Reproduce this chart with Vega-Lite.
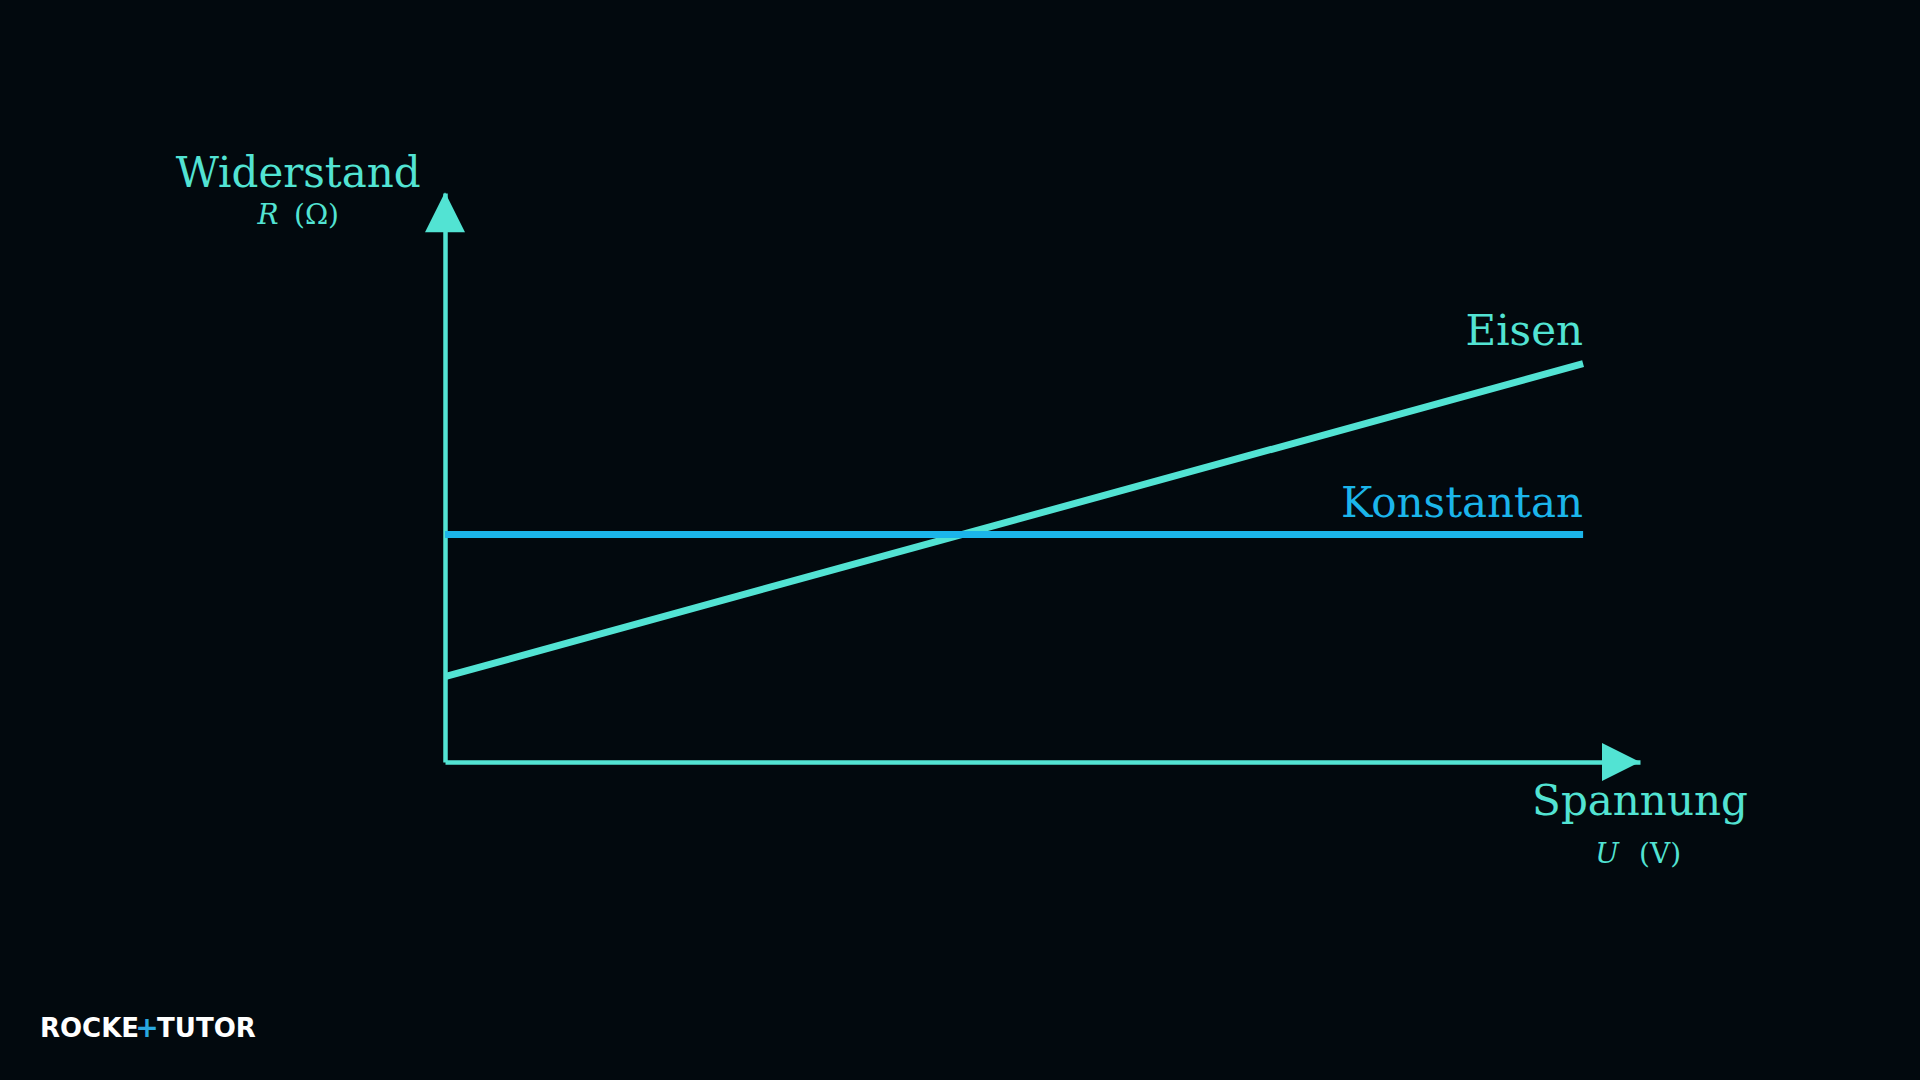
{
  "$schema": "https://vega.github.io/schema/vega-lite/v6.json",
  "autosize": {"type": "none"},
  "width": 1195,
  "height": 569,
  "padding": {"left": 445, "right": 280, "top": 193, "bottom": 318},
  "background": "#02090e",
  "config": {
    "view": {"stroke": null},
    "axis": {
      "domain": true, "domainColor": "#52e3d3", "domainWidth": 4.5, "domainCap": "butt",
      "ticks": false, "labels": false, "grid": false, "title": null
    }
  },
  "datasets": {
    "lines": [
      {"material": "Eisen", "U": 0, "R": 1.5},
      {"material": "Eisen", "U": 10, "R": 7.0},
      {"material": "Konstantan", "U": 0, "R": 4.0},
      {"material": "Konstantan", "U": 10, "R": 4.0}
    ],
    "lineLabels": [
      {"material": "Eisen", "label": "Eisen", "U": 10, "R": 7.33},
      {"material": "Konstantan", "label": "Konstantan", "U": 10, "R": 4.306}
    ],
    "arrowUp": [{"U": 0, "R": 9.66}],
    "arrowRight": [{"U": 10.333, "R": 0}],
    "titles": [
      {"label": "Widerstand", "U": -1.29, "R": 10.105},
      {"label": "Spannung", "U": 10.5, "R": -0.931}
    ],
    "symbols": [
      {"label": "R", "U": -1.555, "R": 9.455},
      {"label": "U", "U": 10.21, "R": -1.775}
    ],
    "units": [
      {"label": "(Ω)", "U": -1.129, "R": 9.455},
      {"label": "(V)", "U": 10.676, "R": -1.775}
    ],
    "logoWhite": [
      {"label": "ROCKE", "U": -3.559, "R": -4.833},
      {"label": "TUTOR", "U": -2.53, "R": -4.833}
    ],
    "logoBlue": [
      {"label": "+", "U": -2.618, "R": -4.833}
    ]
  },
  "layer": [
    {
      "data": {"name": "lines"},
      "mark": {"type": "line", "strokeWidth": 7, "strokeCap": "butt"},
      "encoding": {
        "x": {"field": "U", "type": "quantitative", "scale": {"domain": [0, 10.5], "nice": false, "zero": false}},
        "y": {"field": "R", "type": "quantitative", "scale": {"domain": [0, 10], "nice": false, "zero": false}},
        "color": {"field": "material", "type": "nominal", "scale": {"domain": ["Eisen", "Konstantan"], "range": ["#52e3d3", "#1bb5ea"]}, "legend": null}
      }
    },
    {
      "data": {"name": "arrowUp"},
      "mark": {"type": "point", "shape": "M-1,1L1,1L0,-1Z", "size": 1600, "filled": true, "opacity": 1, "color": "#52e3d3", "strokeWidth": 0},
      "encoding": {
        "x": {"field": "U", "type": "quantitative"},
        "y": {"field": "R", "type": "quantitative"}
      }
    },
    {
      "data": {"name": "arrowRight"},
      "mark": {"type": "point", "shape": "M-1,-1L1,0L-1,1Z", "size": 1444, "filled": true, "opacity": 1, "color": "#52e3d3", "strokeWidth": 0},
      "encoding": {
        "x": {"field": "U", "type": "quantitative"},
        "y": {"field": "R", "type": "quantitative"}
      }
    },
    {
      "data": {"name": "lineLabels"},
      "mark": {"type": "text", "align": "right", "baseline": "alphabetic", "font": "DejaVu Serif", "fontSize": 42},
      "encoding": {
        "x": {"field": "U", "type": "quantitative"},
        "y": {"field": "R", "type": "quantitative"},
        "text": {"field": "label"},
        "color": {"field": "material", "type": "nominal", "legend": null}
      }
    },
    {
      "data": {"name": "titles"},
      "mark": {"type": "text", "align": "center", "baseline": "alphabetic", "font": "DejaVu Serif", "fontSize": 42, "color": "#52e3d3"},
      "encoding": {
        "x": {"field": "U", "type": "quantitative"},
        "y": {"field": "R", "type": "quantitative"},
        "text": {"field": "label"}
      }
    },
    {
      "data": {"name": "symbols"},
      "mark": {"type": "text", "align": "center", "baseline": "alphabetic", "font": "DejaVu Serif", "fontStyle": "italic", "fontSize": 28, "color": "#52e3d3"},
      "encoding": {
        "x": {"field": "U", "type": "quantitative"},
        "y": {"field": "R", "type": "quantitative"},
        "text": {"field": "label"}
      }
    },
    {
      "data": {"name": "units"},
      "mark": {"type": "text", "align": "center", "baseline": "alphabetic", "font": "DejaVu Serif", "fontSize": 28, "color": "#52e3d3"},
      "encoding": {
        "x": {"field": "U", "type": "quantitative"},
        "y": {"field": "R", "type": "quantitative"},
        "text": {"field": "label"}
      }
    },
    {
      "data": {"name": "logoWhite"},
      "mark": {"type": "text", "align": "left", "baseline": "alphabetic", "font": "DejaVu Sans", "fontWeight": "bold", "fontSize": 26, "color": "#ffffff"},
      "encoding": {
        "x": {"field": "U", "type": "quantitative"},
        "y": {"field": "R", "type": "quantitative"},
        "text": {"field": "label"}
      }
    },
    {
      "data": {"name": "logoBlue"},
      "mark": {"type": "text", "align": "center", "baseline": "alphabetic", "font": "DejaVu Sans", "fontWeight": "bold", "fontSize": 28, "color": "#2aa8e0"},
      "encoding": {
        "x": {"field": "U", "type": "quantitative"},
        "y": {"field": "R", "type": "quantitative"},
        "text": {"field": "label"}
      }
    }
  ]
}
